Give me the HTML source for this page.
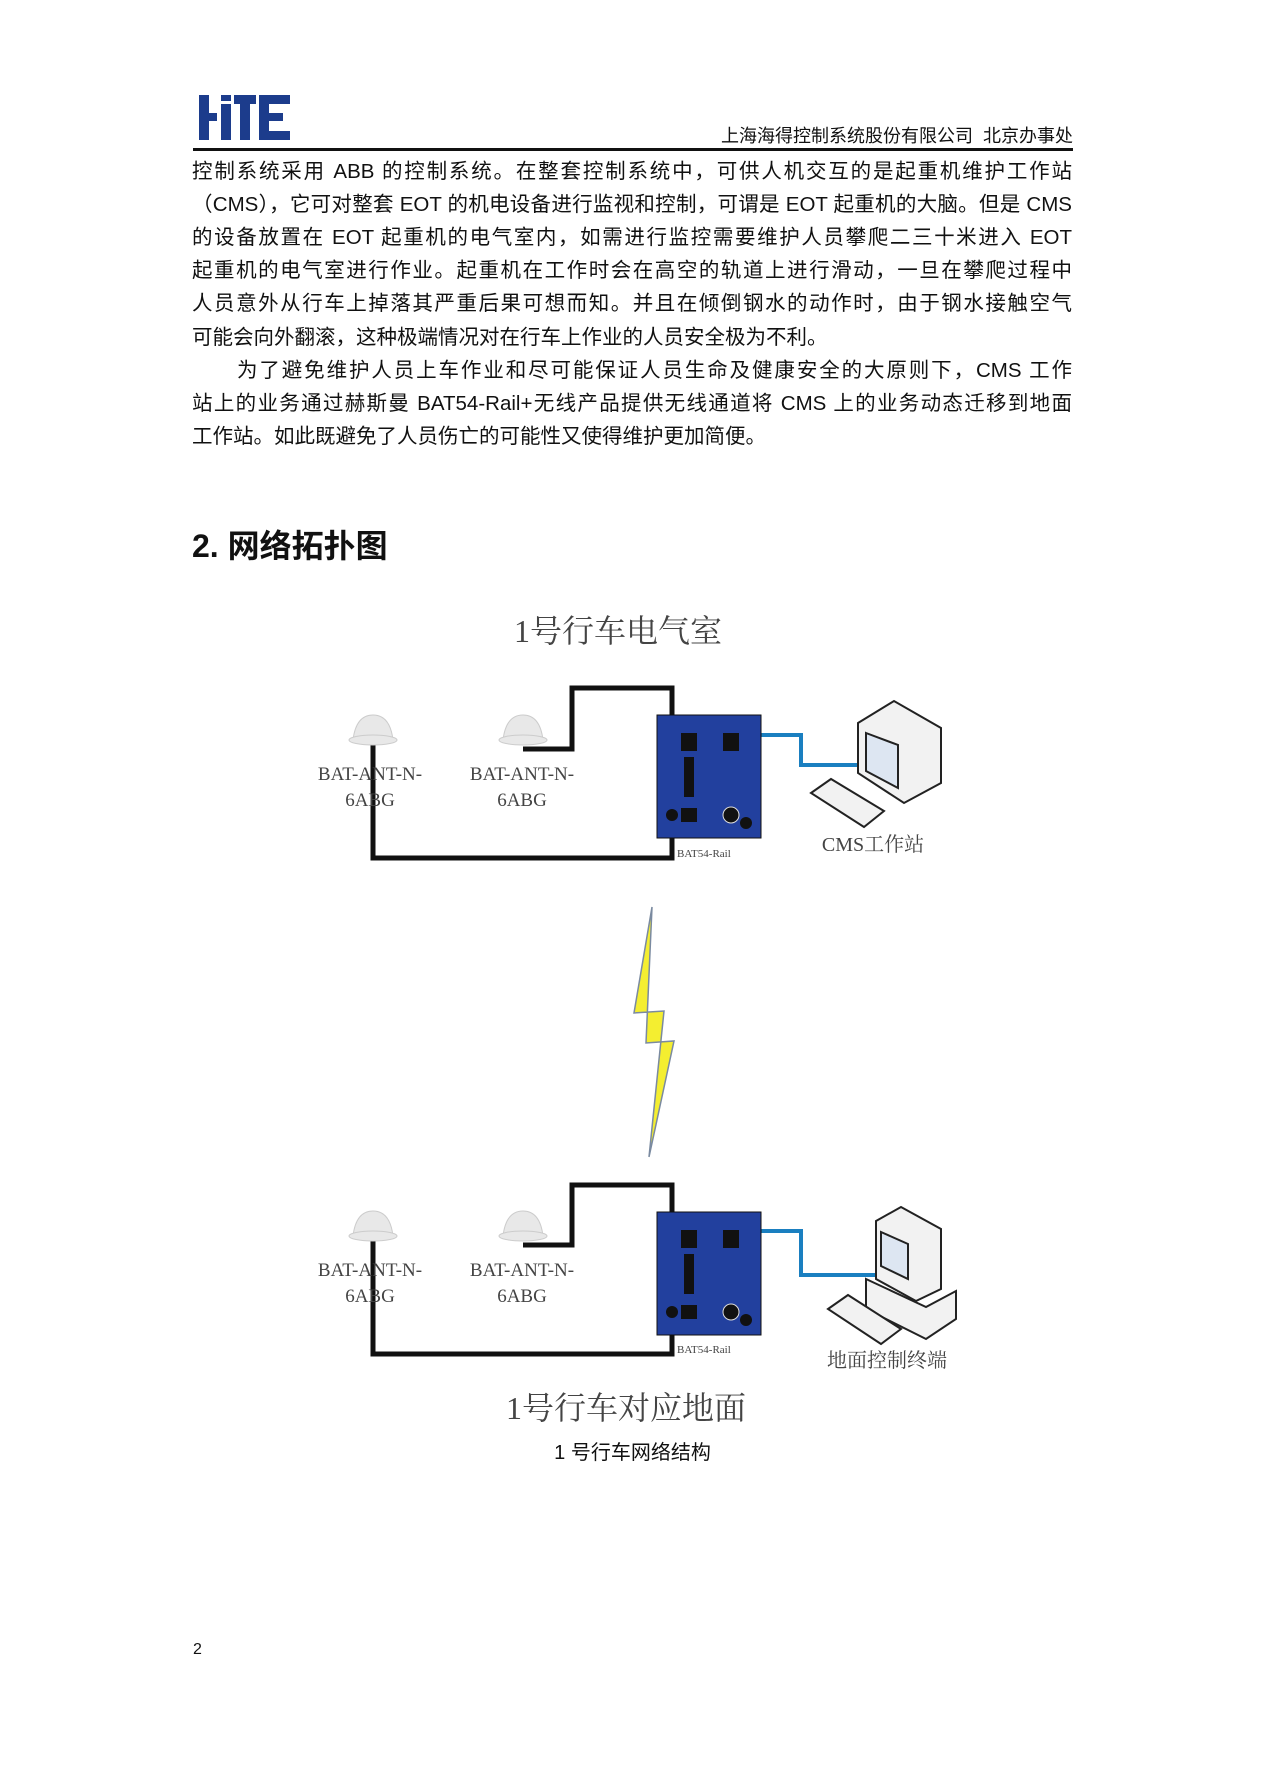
<!DOCTYPE html>
<html><head><meta charset="utf-8"><style>
body{margin:0;background:#fff;}
#p{position:relative;width:1265px;height:1788px;overflow:hidden;background:#fff;font-family:"Liberation Sans","Noto Sans CJK SC",sans-serif;color:#111;}
.l{position:absolute;left:192px;width:880px;font-size:20.5px;line-height:24px;text-align:justify;text-align-last:justify;white-space:nowrap;}
.a{position:absolute;}
svg{position:absolute;left:0;top:0;}
</style></head><body><div id="p">
<svg width="1265" height="1788">
 <g fill="#1c3c8c">
  <rect x="199" y="95" width="10" height="45"/>
  <rect x="209" y="113" width="8" height="8"/>
  <rect x="221" y="104" width="10" height="36"/>
  <rect x="221" y="95" width="10" height="6"/>
  <rect x="234" y="95" width="22" height="9"/>
  <rect x="240" y="104" width="10" height="36"/>
  <rect x="259" y="95" width="31" height="9"/>
  <rect x="259" y="95" width="10" height="45"/>
  <rect x="259" y="113" width="24" height="8"/>
  <rect x="259" y="131" width="31" height="9"/>
 </g>
 <rect x="193" y="148" width="880" height="3" fill="#111"/>
 <g transform="translate(-4,-7)">
 <g fill="none" stroke="#111" stroke-width="5">
  <polyline points="377,746 377,865 676,865 676,842"/>
  <polyline points="527,756 576,756 576,695 676,695 676,736"/>
 </g>
 <g transform="translate(0,-4)">
 <g fill="none" stroke="#111" stroke-width="5">
  <polyline points="377,1246 377,1365 676,1365 676,1342"/>
  <polyline points="527,1256 576,1256 576,1196 676,1196 676,1236"/>
 </g>
 </g>
 <g fill="none" stroke="#1a7fc0" stroke-width="4">
  <polyline points="750,742 805,742 805,772 880,772"/>
  <polyline points="750,1238 805,1238 805,1282 880,1282"/>
 </g>
 <g fill="#e8e8e8" stroke="#ccc">
  <path d="M357,747 Q360,722 377,722 Q394,722 397,747 Z"/><ellipse cx="377" cy="747" rx="24" ry="5"/>
  <path d="M507,747 Q510,722 527,722 Q544,722 547,747 Z"/><ellipse cx="527" cy="747" rx="24" ry="5"/>
  <path d="M357,1243 Q360,1218 377,1218 Q394,1218 397,1243 Z"/><ellipse cx="377" cy="1243" rx="24" ry="5"/>
  <path d="M507,1243 Q510,1218 527,1218 Q544,1218 547,1243 Z"/><ellipse cx="527" cy="1243" rx="24" ry="5"/>
 </g>
 <g>
  <rect x="661" y="722" width="104" height="123" fill="#22409e" stroke="#111"/>
  <rect x="685" y="740" width="16" height="18" fill="#111"/><rect x="727" y="740" width="16" height="18" fill="#111"/>
  <rect x="688" y="764" width="10" height="40" fill="#111"/>
  <rect x="685" y="815" width="16" height="14" fill="#111"/>
  <circle cx="735" cy="822" r="8" fill="#111" stroke="#ddd"/>
  <circle cx="676" cy="822" r="6" fill="#111"/><circle cx="750" cy="830" r="6" fill="#111"/>
  <rect x="661" y="1219" width="104" height="123" fill="#22409e" stroke="#111"/>
  <rect x="685" y="1237" width="16" height="18" fill="#111"/><rect x="727" y="1237" width="16" height="18" fill="#111"/>
  <rect x="688" y="1261" width="10" height="40" fill="#111"/>
  <rect x="685" y="1312" width="16" height="14" fill="#111"/>
  <circle cx="735" cy="1319" r="8" fill="#111" stroke="#ddd"/>
  <circle cx="676" cy="1319" r="6" fill="#111"/><circle cx="750" cy="1327" r="6" fill="#111"/>
 </g>
 <g stroke="#222" stroke-width="2" fill="#f2f2f2">
  <polygon points="862,730 898,708 945,735 945,790 908,810 862,780"/>
  <polygon points="870,740 902,752 902,795 870,778" fill="#dde6f2"/>
  <polygon points="815,800 835,786 888,818 868,834"/>
  <g transform="translate(0,-4)">
  <polygon points="880,1232 905,1218 945,1240 945,1300 920,1312 880,1290"/>
  <polygon points="885,1243 912,1255 912,1290 885,1277" fill="#dde6f2"/>
  <polygon points="870,1290 930,1318 960,1302 960,1330 930,1350 870,1320"/>
  <polygon points="832,1320 852,1306 905,1340 885,1355"/>
  </g>
 </g>
 <polygon points="656,914 638,1020 668,1018 653,1164 678,1048 650,1050" fill="#f4ee30" stroke="#7a8aa0" stroke-width="1.5"/>
 <g font-family="Liberation Serif,Noto Serif CJK SC,serif" fill="#444">
  <text x="622" y="649" font-size="32" text-anchor="middle">1号行车电气室</text>
  <text x="374" y="787" font-size="19" text-anchor="middle">BAT-ANT-N-</text>
  <text x="374" y="813" font-size="19" text-anchor="middle">6ABG</text>
  <text x="526" y="787" font-size="19" text-anchor="middle">BAT-ANT-N-</text>
  <text x="526" y="813" font-size="19" text-anchor="middle">6ABG</text>
  <text x="681" y="864" font-size="11">BAT54-Rail</text>
  <text x="877" y="858" font-size="20" text-anchor="middle">CMS工作站</text>
  <text x="374" y="1283" font-size="19" text-anchor="middle">BAT-ANT-N-</text>
  <text x="374" y="1309" font-size="19" text-anchor="middle">6ABG</text>
  <text x="526" y="1283" font-size="19" text-anchor="middle">BAT-ANT-N-</text>
  <text x="526" y="1309" font-size="19" text-anchor="middle">6ABG</text>
  <text x="681" y="1360" font-size="11">BAT54-Rail</text>
  <text x="891" y="1374" font-size="20" text-anchor="middle">地面控制终端</text>
  <text x="630" y="1426" font-size="32" text-anchor="middle">1号行车对应地面</text>
 </g>
 </g>
</svg>
<div class="a" style="right:192px;top:122px;font-size:18px;">上海海得控制系统股份有限公司&nbsp;&nbsp;北京办事处</div>
<div class="l" style="top:160px">控制系统采用 ABB 的控制系统。在整套控制系统中，可供人机交互的是起重机维护工作站</div>
<div class="l" style="top:193px">（CMS），它可对整套 EOT 的机电设备进行监视和控制，可谓是 EOT 起重机的大脑。但是 CMS</div>
<div class="l" style="top:226px">的设备放置在 EOT 起重机的电气室内，如需进行监控需要维护人员攀爬二三十米进入 EOT</div>
<div class="l" style="top:259px">起重机的电气室进行作业。起重机在工作时会在高空的轨道上进行滑动，一旦在攀爬过程中</div>
<div class="l" style="top:292px">人员意外从行车上掉落其严重后果可想而知。并且在倾倒钢水的动作时，由于钢水接触空气</div>
<div class="l" style="top:326px;text-align-last:left">可能会向外翻滚，这种极端情况对在行车上作业的人员安全极为不利。</div>
<div class="l" style="top:359px;left:237px;width:835px">为了避免维护人员上车作业和尽可能保证人员生命及健康安全的大原则下，CMS 工作</div>
<div class="l" style="top:392px">站上的业务通过赫斯曼 BAT54-Rail+无线产品提供无线通道将 CMS 上的业务动态迁移到地面</div>
<div class="l" style="top:425px;text-align-last:left">工作站。如此既避免了人员伤亡的可能性又使得维护更加简便。</div>
<div class="a" style="left:192px;top:521px;font-size:32px;font-weight:bold;">2. 网络拓扑图</div>
<div class="a" style="left:0;width:1265px;text-align:center;top:1436px;font-size:20px;">1 号行车网络结构</div>
<div class="a" style="left:193px;top:1641px;font-size:16px;">2</div>
</div></body></html>
